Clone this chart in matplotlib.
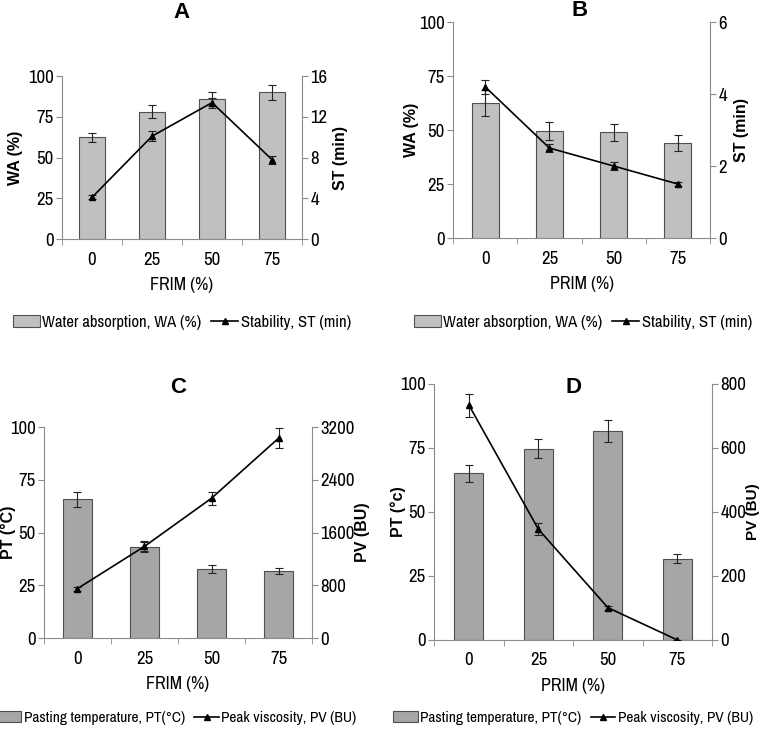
import matplotlib
matplotlib.use("Agg")
import matplotlib.pyplot as plt
from matplotlib import font_manager
from matplotlib.lines import Line2D
from matplotlib.patches import Patch

# ── Data ──────────────────────────────────────────────────────────────────────
levels = ["0", "25", "50", "75"]

# A: FRIM — water absorption / stability
wa_frim      = [62.5, 78.0, 86.0, 90.0]
wa_frim_err  = [2.8, 4.0, 4.5, 4.5]
st_frim      = [4.1, 10.1, 13.4, 7.8]
st_frim_err  = [0.2, 0.5, 0.5, 0.4]

# B: PRIM — water absorption / stability
wa_prim      = [62.5, 49.5, 49.0, 43.8]
wa_prim_err  = [5.8, 4.0, 4.0, 3.7]
st_prim      = [4.2, 2.5, 2.0, 1.5]
st_prim_err  = [0.2, 0.1, 0.1, 0.05]

# C: FRIM — pasting temperature / peak viscosity
pt_frim      = [65.8, 43.2, 32.8, 31.8]
pt_frim_err  = [3.5, 2.4, 1.8, 1.6]
pv_frim      = [750, 1390, 2120, 3030]
pv_frim_err  = [30, 75, 100, 155]

# D: PRIM — pasting temperature / peak viscosity
pt_prim      = [65.2, 74.7, 81.7, 31.7]
pt_prim_err  = [3.3, 3.7, 4.2, 1.7]
pv_prim      = [734, 346, 101, 0]
pv_prim_err  = [36, 18, 6, 0]

# pick a condensed face (Arial Narrow look) from whatever is installed
_installed = {f.name for f in font_manager.fontManager.ttflist}
_narrow_pref = ["Liberation Sans Narrow", "Arial Narrow", "Archivo Narrow",
                "PT Sans Narrow", "Roboto Condensed", "Pragati Narrow",
                "Fira Sans Condensed", "IBM Plex Sans Condensed",
                "Barlow Semi Condensed", "Encode Sans Condensed"]
_narrow = [n for n in _narrow_pref if n in _installed]
NARROW = (_narrow[:1] or ["Liberation Sans"]) + ["DejaVu Sans"]
NSIZE  = 12 if _narrow else 10
BOLD   = ["Liberation Sans", "DejaVu Sans"]
SPINE  = "#8c8c8c"

fig = plt.figure(figsize=(7.61, 7.29), dpi=100)


def panel(rect, bars, bar_err, line, line_err, rmax, rticks, bar_color,
          xlabel, ylabel, rlabel, title, title_xy, ylabel_x, rlabel_x,
          legend_labels, legend_xy, legend_size, label_size=11.5):
    ax = fig.add_axes(rect)
    x = range(len(levels))
    ax.bar(x, bars, width=0.42, color=bar_color, edgecolor="#505050", lw=0.8,
           yerr=bar_err, error_kw=dict(ecolor="#222222", elinewidth=0.8,
                                       capsize=3, capthick=0.8), zorder=2)
    ax.set_xlim(-0.5, len(levels) - 0.5)
    ax.set_ylim(0, 100)
    ax.set_yticks([0, 25, 50, 75, 100])
    ax.set_xticks(list(x))
    ax.set_xticklabels(levels)
    ax.set_xticks([i - 0.5 for i in range(len(levels) + 1)], minor=True)
    ax.tick_params(axis="x", which="major", length=0, pad=9)
    ax.tick_params(axis="x", which="minor", length=4, color=SPINE)
    ax.tick_params(axis="y", length=4, color=SPINE, pad=2)
    for lab in ax.get_xticklabels() + ax.get_yticklabels():
        lab.set_family(NARROW)
        lab.set_fontsize(NSIZE + 1.5)
    for s in ["top", "right"]:
        ax.spines[s].set_visible(False)
    for s in ["left", "bottom"]:
        ax.spines[s].set_color(SPINE)
    ax.set_xlabel(xlabel, family=NARROW, fontsize=NSIZE + 1, labelpad=7)

    ax2 = ax.twinx()
    ax2.errorbar(x, line, yerr=line_err, color="black", lw=1.2, marker="^",
                 ms=4, ecolor="#222222", elinewidth=0.8, capsize=3,
                 capthick=0.8, zorder=3)
    ax2.set_ylim(0, rmax)
    ax2.set_yticks(rticks)
    ax2.tick_params(axis="y", length=4, color=SPINE, pad=2)
    for lab in ax2.get_yticklabels():
        lab.set_family(NARROW)
        lab.set_fontsize(NSIZE + 1.5)
    for s in ["top", "left", "bottom"]:
        ax2.spines[s].set_visible(False)
    ax2.spines["right"].set_color(SPINE)

    y_mid = rect[1] + rect[3] / 2
    fig.text(ylabel_x, y_mid, ylabel, rotation=90, ha="center", va="center",
             family=BOLD, fontweight="bold", fontsize=11.5)
    fig.text(rlabel_x, y_mid, rlabel, rotation=90, ha="center", va="center",
             family=BOLD, fontweight="bold", fontsize=label_size)
    fig.text(title_xy[0], title_xy[1], title, ha="center", va="center",
             family=BOLD, fontweight="bold", fontsize=16)

    handles = [Patch(facecolor=bar_color, edgecolor="#505050", lw=0.8),
               Line2D([], [], color="black", lw=1.2, marker="^", ms=4)]
    fig.legend(handles, legend_labels, loc="center", bbox_to_anchor=legend_xy,
               ncol=2, frameon=False, handlelength=1.6, handletextpad=0.15,
               columnspacing=0.6, borderpad=0.1,
               prop=dict(family=NARROW, size=legend_size))
    return ax, ax2


wa_labels = ["Water absorption, WA (%)", "Stability, ST (min)"]
pv_labels = ["Pasting temperature, PT(\u00b0C)", "Peak viscosity, PV (BU)"]

panel([0.0815, 0.672, 0.3154, 0.2236], wa_frim, wa_frim_err, st_frim,
      st_frim_err, 16, [0, 4, 8, 12, 16], "#c0c0c0", "FRIM (%)", "WA (%)",
      "ST (min)", "A", (0.239, 0.983), 0.020, 0.447, wa_labels, (0.239, 0.558),
      NSIZE)

panel([0.5953, 0.6735, 0.3377, 0.2963], wa_prim, wa_prim_err, st_prim,
      st_prim_err, 6, [0, 2, 4, 6], "#c0c0c0", "PRIM (%)", "WA (%)",
      "ST (min)", "B", (0.762, 0.985), 0.541, 0.975, wa_labels, (0.766, 0.558),
      NSIZE)

panel([0.0578, 0.1248, 0.3522, 0.2894], pt_frim, pt_frim_err, pv_frim,
      pv_frim_err, 3200, [0, 800, 1600, 2400, 3200], "#a6a6a6", "FRIM (%)",
      "PT (\u00b0C)", "PV (BU)", "C", (0.234, 0.469), 0.011, 0.477,
      pv_labels, (0.232, 0.015), NSIZE - 0.9)

panel([0.5705, 0.1221, 0.3653, 0.3512], pt_prim, pt_prim_err, pv_prim,
      pv_prim_err, 800, [0, 200, 400, 600, 800], "#a6a6a6", "PRIM (%)",
      "PT (\u00b0c)", "PV (BU)", "D", (0.754, 0.469), 0.523, 0.990,
      pv_labels, (0.753, 0.015), NSIZE - 0.9, label_size=11)

fig.savefig("out.png", dpi=100)
